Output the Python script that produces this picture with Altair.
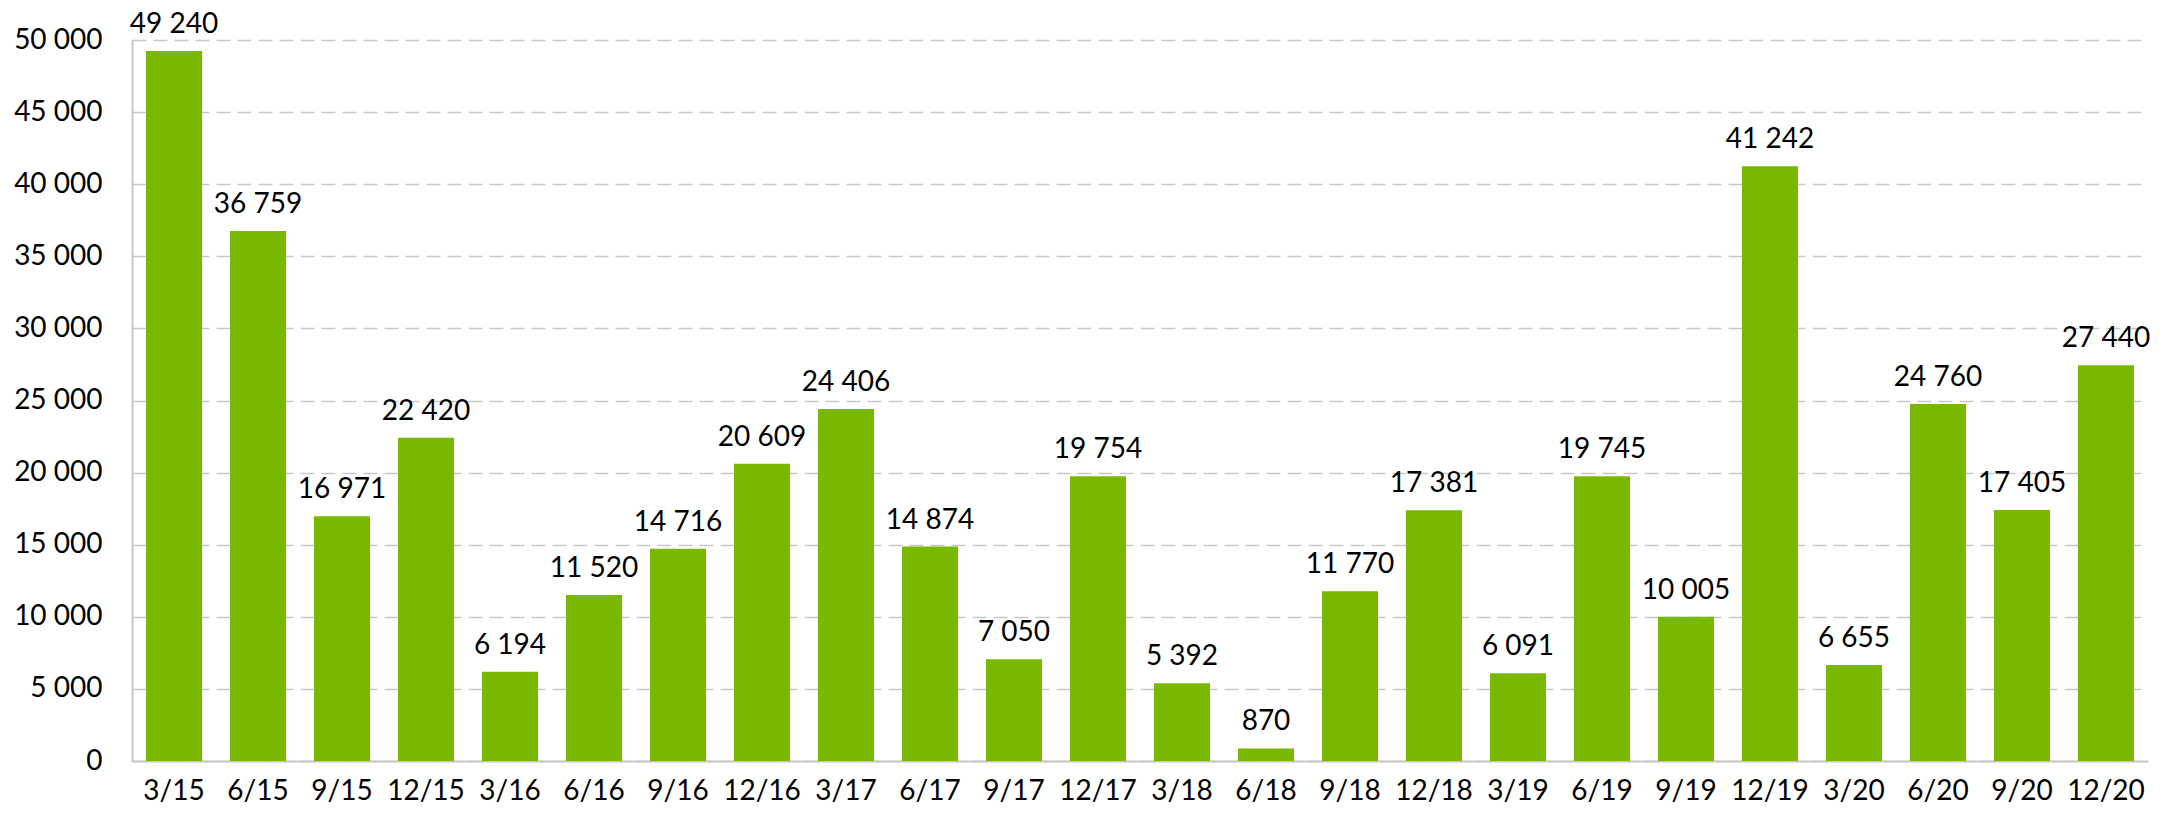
import altair as alt
import pandas as pd

quarters = ["3/15", "6/15", "9/15", "12/15", "3/16", "6/16", "9/16", "12/16",
            "3/17", "6/17", "9/17", "12/17", "3/18", "6/18", "9/18", "12/18",
            "3/19", "6/19", "9/19", "12/19", "3/20", "6/20", "9/20", "12/20"]
values = [49240, 36759, 16971, 22420, 6194, 11520, 14716, 20609,
          24406, 14874, 7050, 19754, 5392, 870, 11770, 17381,
          6091, 19745, 10005, 41242, 6655, 24760, 17405, 27440]
y_ticks = [0, 5000, 10000, 15000, 20000, 25000, 30000, 35000, 40000, 45000, 50000]

df = pd.DataFrame({"q": quarters, "v": values})

FONT = "Lato"
FS = 28
GREEN = "#7ab800"
GREY = "#c8c8c8"

x = alt.X("q:N", sort=quarters, title=None,
          scale=alt.Scale(paddingInner=0.333, paddingOuter=0.167),
          axis=alt.Axis(labelAngle=0, labelFont=FONT, labelFontSize=FS, labelColor="#000000",
                        labelPadding=16, ticks=False, domainColor=GREY, domainWidth=2))
y = alt.Y("v:Q", title=None,
          scale=alt.Scale(domain=[0, 50000], nice=False),
          axis=alt.Axis(values=y_ticks, labelFont=FONT, labelFontSize=FS, labelColor="#000000",
                        labelPadding=30, ticks=False, domainColor=GREY, domainWidth=2,
                        grid=True, gridColor=GREY, gridDash=[14, 7], gridWidth=1.5,
                        labelExpr="replace(format(datum.value, ','), ',', ' ')"))

bars = alt.Chart(df).mark_bar(color=GREEN).encode(x=x, y=y)
labels = alt.Chart(df).transform_calculate(
    lab="replace(format(datum.v, ','), ',', ' ')"
).mark_text(font=FONT, fontSize=FS, baseline="alphabetic", dy=-18, color="#000000").encode(
    x=alt.X("q:N", sort=quarters), y="v:Q", text="lab:N")

chart = alt.layer(bars, labels).properties(
    width=2016, height=721,
    autosize=alt.AutoSizeParams(type="none"),
    padding={"left": 124, "top": 32, "right": 10, "bottom": 50},
).configure_view(stroke=None).configure_axis(gridCap="butt")

chart.save("out.html", embed_options={"renderer": "svg", "actions": False})
